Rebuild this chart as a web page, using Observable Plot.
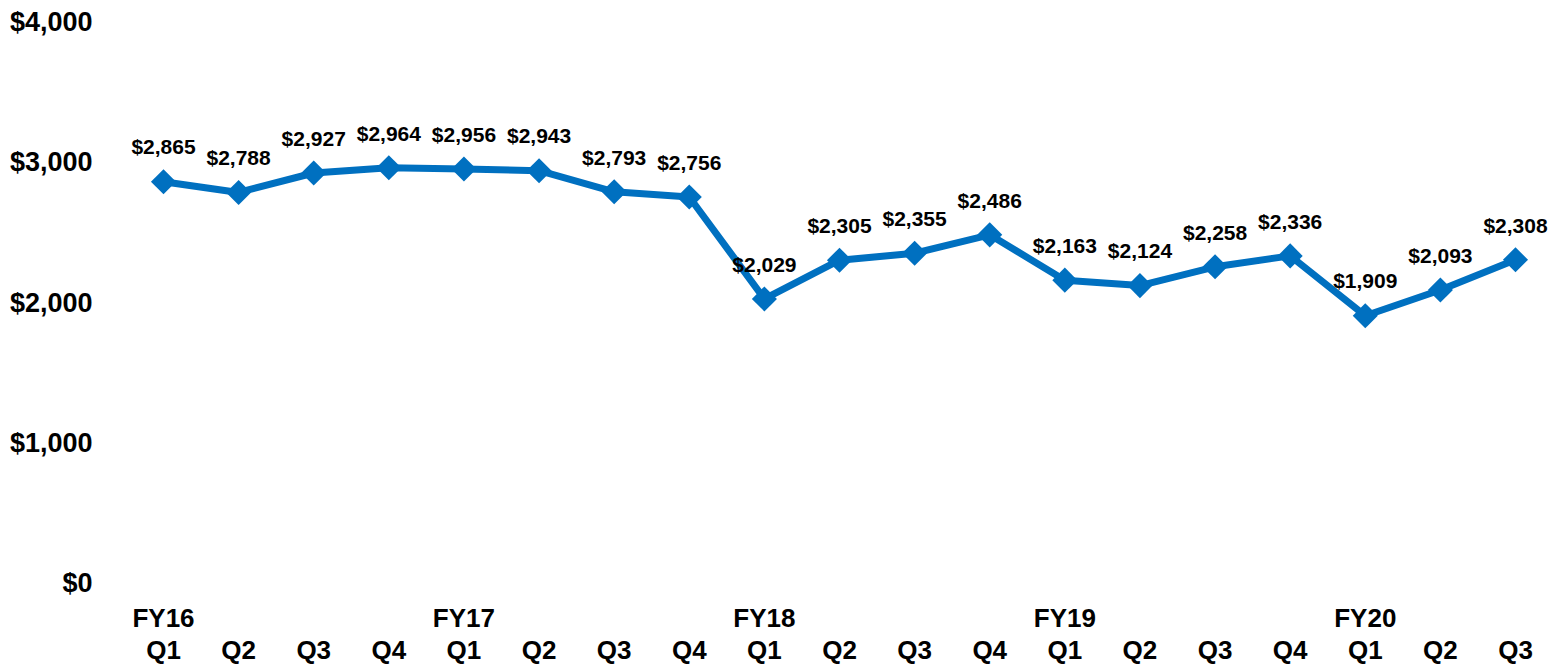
<!DOCTYPE html>
<html>
<head>
<meta charset="utf-8">
<script src="https://cdn.jsdelivr.net/npm/d3@7"></script>
<script src="https://cdn.jsdelivr.net/npm/@observablehq/plot@0.6"></script>
<style>
  html, body { margin: 0; padding: 0; background: #fff; }
</style>
</head>
<body>
<div id="chart"></div>
<script>
const quarters = ["Q1","Q2","Q3","Q4","Q1","Q2","Q3","Q4","Q1","Q2","Q3","Q4","Q1","Q2","Q3","Q4","Q1","Q2","Q3"];
const fiscalYears = ["FY16","","","","FY17","","","","FY18","","","","FY19","","","","FY20","",""];
const values = [2865,2788,2927,2964,2956,2943,2793,2756,2029,2305,2355,2486,2163,2124,2258,2336,1909,2093,2308];
const yTicks = [0,1000,2000,3000,4000];

const data = values.map((v, i) => ({i, v, q: quarters[i], fy: fiscalYears[i]}));
const fmt = d3.format("$,");
const blue = "#0070C0";

const chart = Plot.plot({
  width: 1550,
  height: 664,
  marginTop: 22,
  marginBottom: 81,
  marginLeft: 163,
  marginRight: 35,
  style: {fontFamily: "'Liberation Sans', Arial, sans-serif", fontWeight: "bold", color: "#000", background: "#fff"},
  x: {type: "linear", domain: [0, values.length - 1], axis: null},
  y: {domain: [0, 4000], axis: null},
  marks: [
    Plot.axisY(yTicks, {tickSize: 0, tickPadding: 71, tickFormat: fmt, fontSize: 27, fontWeight: "bold", fill: "#000", label: null}),
    Plot.line(data, {x: "i", y: "v", stroke: blue, strokeWidth: 7, strokeLinejoin: "miter"}),
    Plot.dot(data, {x: "i", y: "v", symbol: "diamond2", r: 11.3, fill: blue, stroke: "none"}),
    Plot.text(data, {x: "i", y: "v", text: d => fmt(d.v), dy: -34, fontSize: 21, fontWeight: "bold", fill: "#000"}),
    Plot.text(data.filter(d => d.fy), {x: "i", text: "fy", frameAnchor: "bottom", dy: 43, fontSize: 26, fontWeight: "bold", fill: "#000"}),
    Plot.text(data, {x: "i", text: "q", frameAnchor: "bottom", dy: 75, fontSize: 26, fontWeight: "bold", fill: "#000"})
  ]
});
document.getElementById("chart").appendChild(chart);
</script>
</body>
</html>
